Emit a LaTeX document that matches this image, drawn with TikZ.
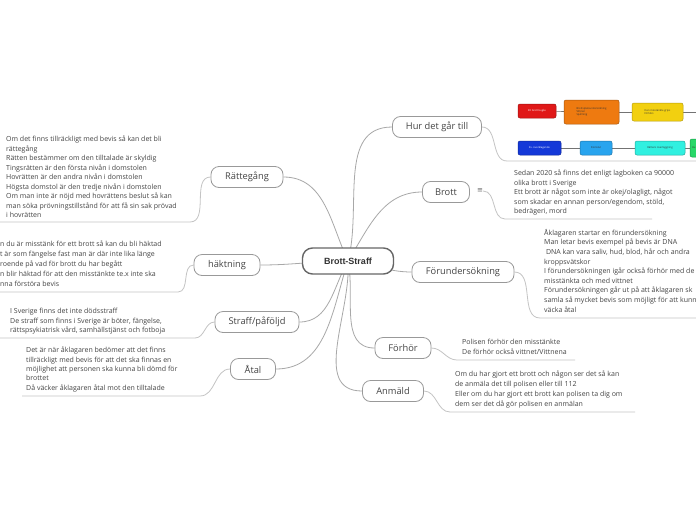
\documentclass[tikz,border=0pt]{standalone}
\usepackage{fontspec}
\setmainfont{Open Sans}
\newfontfamily\hubfont{Liberation Sans}
\newfontfamily\symfont{DejaVu Sans}
\usetikzlibrary{backgrounds}
\definecolor{linegray}{HTML}{A8A8A8}
\definecolor{sublinegray}{HTML}{C4C4C4}
\definecolor{txt}{HTML}{444444}
\definecolor{bred}{HTML}{E01818}
\definecolor{borange}{HTML}{EE7A10}
\definecolor{byellow}{HTML}{F2D010}
\definecolor{bblue}{HTML}{1438D8}
\definecolor{blblue}{HTML}{28A4EE}
\definecolor{bcyan}{HTML}{30F0E0}
\definecolor{bgreen}{HTML}{28D868}
\tikzset{
  branch/.style={draw=black!40, line width=0.8pt, rounded corners=8pt, fill=white,
    minimum height=21pt, inner sep=0pt, font=\fontsize{9.3}{10}\selectfont, text=txt},
  hub/.style={draw=black!60, line width=1.4pt, rounded corners=10pt, fill=white,
    minimum width=91pt, minimum height=26pt, inner sep=0pt,
    font=\hubfont\bfseries\fontsize{9}{10}\selectfont, text=black!80},
  conn/.style={draw=linegray, line width=0.8pt},
  subconn/.style={draw=sublinegray, line width=0.8pt},
  note/.style={anchor=north west, align=left, inner sep=0pt,
    font=\fontsize{7}{9.5}\selectfont, text=txt},
  imgbox/.style={rounded corners=2pt, line width=0.5pt, inner sep=0pt, align=left,
    font=\fontsize{2.6}{3}\selectfont},
  imglink/.style={draw=black!55, line width=0.6pt}
}
\begin{document}
\begin{tikzpicture}[x=1pt,y=-1pt]
\useasboundingbox (0,0) rectangle (696,520);

% hub and branches
\node[hub] (hub) at (348,261) {Brott-Straff};
\node[branch, minimum width=89pt] (hur) at (437,127) {Hur det går till};
\node[branch, minimum width=47pt] (brott) at (446,192) {Brott};
\node[inner sep=0pt, font=\symfont\fontsize{7}{8}\selectfont, text=black!60] (brottic) at (480,191) {≡};
\node[branch, minimum width=102pt] (forund) at (463,272) {Förundersökning};
\node[branch, minimum width=56pt] (forhor) at (403,348) {Förhör};
\node[branch, minimum width=61pt] (anmald) at (393,391) {Anmäld};
\node[branch, minimum width=72pt] (ratte) at (247,177) {Rättegång};
\node[branch, minimum width=66pt] (hakt) at (227,265) {häktning};
\node[branch, minimum width=84pt] (straff) at (257,322) {Straff/påföljd};
\node[branch, minimum width=45pt] (atal) at (253,369) {Åtal};

% detail texts
\node[note] (tratte) at (6,136) {Om det finns tillräckligt med bevis så kan det bli\\rättegång\\Rätten bestämmer om den tilltalade är skyldig\\Tingsrätten är den första nivån i domstolen\\Hovrätten är den andra nivån i domstolen\\Högsta domstol är den tredje nivån i domstolen\\Om man inte är nöjd med hovrättens beslut så kan\\man söka prövningstillstånd för att få sin sak prövad\\i hovrätten};
\node[note, font=\fontsize{7}{10}\selectfont] (thakt) at (0,241) {n du är misstänk för ett brott så kan du bli häktad\\t är som fängelse fast man är där inte lika länge\\roende på vad för brott du har begått\\n blir häktad för att den misstänkte te.x inte ska\\nna förstöra bevis};
\node[note] (tstraff) at (10,308) {I Sverige finns det inte dödsstraff\\De straff som finns i Sverige är böter, fängelse,\\rättspsykiatrisk vård, samhällstjänst och fotboja};
\node[note, font=\fontsize{7}{9.3}\selectfont] (tatal) at (26,347) {Det är när åklagaren bedömer att det finns\\tillräckligt med bevis för att det ska finnas en\\möjlighet att personen ska kunna bli dömd för\\brottet\\Då väcker åklagaren åtal mot den tilltalade};
\node[note] (tbrott) at (514,170) {Sedan 2020 så finns det enligt lagboken ca 90000\\olika brott i Sverige\\Ett brott är något som inte är okej/olagligt, något\\som skadar en annan person/egendom, stöld,\\bedrägeri, mord};
\node[note, font=\fontsize{7}{9.6}\selectfont] (tforund) at (544,229) {Åklagaren startar en förundersökning\\Man letar bevis exempel på bevis är DNA\\\ DNA kan vara saliv, hud, blod, hår och andra\\kroppsvätskor\\I förundersökningen igår också förhör med de\\misstänkta och med vittnet\\Förundersökningen går ut på att åklagaren sk\\samla så mycket bevis som möjligt för att kunn\\väcka åtal};
\node[note] (tforhor) at (462,339) {Polisen förhör den misstänkte\\De förhör också vittnet/Vittnena};
\node[note, font=\fontsize{7}{9.7}\selectfont] (tanmald) at (455,371) {Om du har gjort ett brott och någon ser det så kan\\de anmäla det till polisen eller till 112\\Eller om du har gjort ett brott kan polisen ta dig om\\dem ser det då gör polisen en anmälan};

% embedded flow picture
\begin{scope}
\clip (512,93) rectangle (696,160);
\node[imgbox, fill=bred, draw=bred!70!black, minimum width=38pt, minimum height=14pt, text=white] (b1) at (537,111) {Ett brott begås};
\node[imgbox, fill=borange, draw=borange!70!black, minimum width=55pt, minimum height=24pt, text=black!80] (b2) at (591.5,112) {Brottsplatsundersökning\\Vittnen\\Spårning};
\node[imgbox, fill=byellow, draw=byellow!75!black, minimum width=51pt, minimum height=18pt, text=black!80] (b3) at (657.5,112) {Den misstänkte grips\\förhörs};
\coordinate (b3r) at (696,112);
\node[imgbox, fill=bblue, draw=bblue!70!black, minimum width=43pt, minimum height=14pt, text=white] (b4) at (539.5,148) {Ev. överklagande};
\node[imgbox, fill=blblue, draw=blblue!70!black, minimum width=32pt, minimum height=14pt, text=black!80] (b5) at (596,148) {Domslut};
\node[imgbox, fill=bcyan, draw=bcyan!70!black, minimum width=50pt, minimum height=14pt, text=black!80] (b6) at (660,148) {Rättens överläggning};
\node[imgbox, fill=bgreen, draw=bgreen!70!black, minimum width=22pt, minimum height=18pt, text=black!80, text width=18pt] (b7) at (701,148) {Hu};
\end{scope}

\begin{pgfonlayer}{background}
\fill[white] (0,0) rectangle (696,520);
% main connectors
\draw[conn] (hub.center) to[out=75,in=180] (hur.west);
\draw[conn] (hub.center) to[out=58,in=180] (brott.west);
\draw[conn] (hub.center) to[out=-5,in=180] (forund.west);
\draw[conn] (hub.center) to[out=-78,in=180] (forhor.west);
\draw[conn] (hub.center) to[out=-86,in=180] (anmald.west);
\draw[conn] (hub.center) to[out=115,in=0] (ratte.east);
\draw[conn] (hub.center) to[out=180,in=0] (hakt.east);
\draw[conn] (hub.center) to[out=-120,in=0] (straff.east);
\draw[conn] (hub.center) to[out=-108,in=0] (atal.east);
% sub connectors with underlines
\coordinate (uR1) at (190,222); \coordinate (uR0) at (0,222);
\draw[subconn] (ratte.west) to[out=180,in=0] (uR1) -- (uR0);
\coordinate (uH1) at (178,292); \coordinate (uH0) at (0,292);
\draw[subconn] (hakt.west) to[out=180,in=0] (uH1) -- (uH0);
\coordinate (uS1) at (195,338); \coordinate (uS0) at (0,338);
\draw[subconn] (straff.west) to[out=180,in=0] (uS1) -- (uS0);
\coordinate (uA1) at (200,396); \coordinate (uA0) at (22,396);
\draw[subconn] (atal.west) to[out=180,in=0] (uA1) -- (uA0);
\coordinate (uHu1) at (507,161); \coordinate (uHu0) at (696,161);
\draw[subconn] (hur.east) to[out=0,in=180] (uHu1) -- (uHu0);
\coordinate (uB1) at (505,219); \coordinate (uB0) at (652,219);
\draw[subconn] (brottic.east) to[out=0,in=180] (uB1) -- (uB0);
\coordinate (uF1) at (540,318); \coordinate (uF0) at (696,318);
\draw[subconn] (forund.east) to[out=0,in=180] (uF1) -- (uF0);
\coordinate (uFh1) at (457,360); \coordinate (uFh0) at (575,360);
\draw[subconn] (forhor.east) to[out=0,in=180] (uFh1) -- (uFh0);
\coordinate (uAn1) at (450,412); \coordinate (uAn0) at (635,412);
\draw[subconn] (anmald.east) to[out=0,in=180] (uAn1) -- (uAn0);
% picture links
\draw[imglink] (b1) -- (b2);
\draw[imglink] (b2) -- (b3);
\draw[imglink] (b3) -- (b3r);
\draw[imglink] (b4) -- (b5);
\draw[imglink] (b5) -- (b6);
\draw[imglink] (b6) -- (b7);
\end{pgfonlayer}
\end{tikzpicture}
\end{document}
